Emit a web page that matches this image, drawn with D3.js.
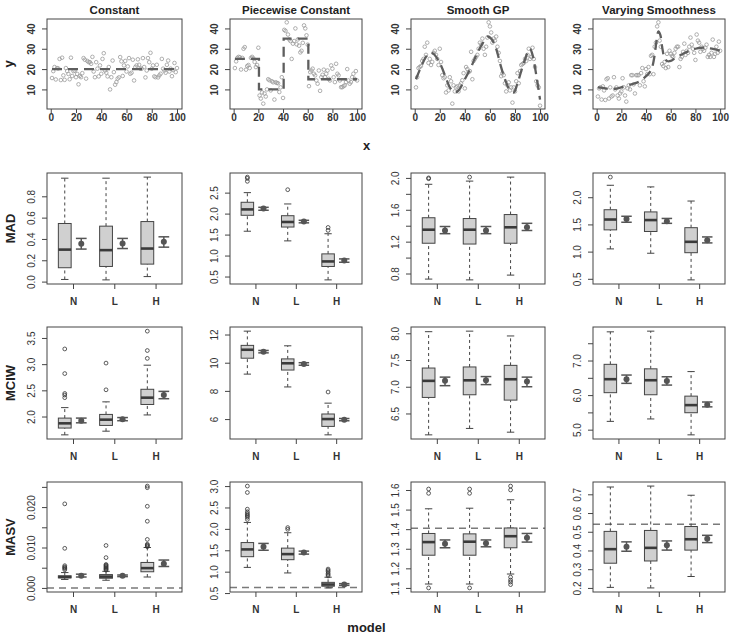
<!DOCTYPE html>
<html><head><meta charset="utf-8">
<script src="https://cdn.jsdelivr.net/npm/d3@7"></script>
<style>body{margin:0;background:#fff}</style>
</head><body><svg id="c" width="733" height="638"></svg>
<script>
// ---------- data ----------
const scenarios = ["Constant", "Piecewise Constant", "Smooth GP", "Varying Smoothness"];
const models = ["N", "L", "H"];
const metrics = ["MAD", "MCIW", "MASV"];

const scatterX = d3.range(1, 101);
const yConstant = [15.6,19.0,21.0,14.9,20.5,20.3,25.0,14.6,25.6,16.9, 14.7,20.5,19.0,17.6,15.0,25.6,16.6,19.0,19.2,16.0,
  17.6,12.5,16.6,16.0,18.0,25.4,24.6,15.3,24.0,23.4, 23.4,22.6,26.0,18.8,16.0,23.4,20.2,16.4,21.8,17.7,
  25.0,27.8,19.3,18.2,16.4,21.0,10.0,16.0,24.2,18.5, 12.3,13.6,15.3,15.9,25.9,23.8,16.6,21.8,24.0,18.8,
  21.3,25.4,17.7,18.2,24.6,14.4,21.0,21.8,24.8,22.1, 20.2,20.2,25.4,21.0,15.9,19.3,25.4,23.4,28.0,20.2,
  21.8,16.4,16.0,22.1,15.9,16.9,17.7,25.0,20.2,19.3, 18.2,22.1,24.2,18.8,20.2,16.5,19.5,23.0,18.5,20.5];
const yPiecewise = [20.5,23.8,25.5,26.0,25.8,19.8,25.5,30.0,30.8,19.7, 21.5,22.0,20.5,25.5,26.0,25.2,23.5,21.0,22.0,30.5,
  7.0,5.5,8.5,3.0,8.0,6.5,10.0,15.0,14.5,9.5, 14.0,13.5,5.0,13.5,13.2,13.0,8.7,11.0,16.0,5.8,
  39.3,38.8,43.0,37.0,34.6,33.8,25.0,32.5,33.8,40.0, 32.2,34.6,31.5,28.2,29.0,32.9,41.5,40.0,36.6,32.0,
  11.6,18.5,19.3,20.2,17.7,16.9,14.4,12.8,19.3,9.3, 16.0,17.2,19.7,16.0,17.7,19.3,15.2,14.4,21.8,20.2,
  16.0,13.6,22.6,17.7,16.9,14.4,11.1,11.1,11.6,12.0, 13.6,20.0,14.4,12.8,13.6,16.0,17.7,15.2,19.0,14.4];
const ySmoothGP = [11,16,20.5,21,21.5,24,25,31,27,33, 23,25,22,23.5,28,29,27,25,22,30,
  23.5,17,15.5,16,8.5,12,9.5,16,14,3, 12,9,11,11.5,9,12,13,14.5,18,10.5,
  21,20,18.5,19,28.5,15,24,25,26,27, 30,33,32,35,30,27,31,35.5,43,41,
  38,33,35,34,36,31,28,24,16.5,18, 17,13,9,12,13.5,9.5,11,3.5,11,9,
  14,18,13,19,22,22.5,23,25,24,27, 30,25,26,30.5,25,21,14,12,11,2];
const yVarying = [6.5,10.5,11,5,11.5,9.5,4.8,15,15.5,5.5, 11,6.5,7,16,10,11,7,5.5,8,9,
  15.5,11,7,4,10.5,12,10,17,17,12.5, 8,17,17,17,12,18,20.5,14,11.5,20,
  17.5,21,17.5,26.5,27,17.5,31,33,41,43, 34,31,22.5,21.5,23.5,20.5,27.5,21,29,27.5,
  26.5,26,28,30,31,31,21,25,26,28.5, 32.5,27,29,28,31,35.5,32,30,28,24.5,
  37,34,33,28.5,31,30,29,30.5,32,26, 27,26,28,34.5,26,27.5,31,28,33.5,29];

const trueConstantX = [1, 100], trueConstantY = [20, 20];
const truePiecewiseX = [1, 20.5, 40.5, 60.5, 100], truePiecewiseY = [25, 10, 35, 15, 15];
const trueSmoothX = [1,5,9,12,15,20,25,28,32,35,40,45,50,55,58,61,65,68,72,76,79,82,86,90,92,94,97,100];
const trueSmoothY = [15,21,26,28,27.5,23,15.5,11,8.5,9.5,15,21,28,33.5,36,35,30,23,15,9.5,8.5,13,21,28,30,27,17,5];
const trueVaryX = [1,5,10,15,20,25,30,35,40,43,45,47,48.5,50,51.5,53,55,57,60,65,70,75,80,85,90,95,100];
const trueVaryY = [11,10.8,10.2,10.3,11,12,12.8,14,16.5,18.5,21,27,34,38.5,37,31,25.5,24,24,26,27.5,29,30,30.5,30.3,29.8,29];

const scatterXTicks = [0, 20, 40, 60, 80, 100];
const scatterYTicks = [10, 20, 30, 40];

// box stats: [lower whisker, q1, median, q3, upper whisker] per scenario x model
const madBox = [
  [[0.02,0.13,0.30,0.545,0.97],[0.016,0.142,0.295,0.52,0.97],[0.047,0.164,0.31,0.563,0.98]],
  [[1.58,1.96,2.10,2.27,2.50],[1.35,1.68,1.80,1.95,2.23],[0.42,0.74,0.86,1.04,1.52]],
  [[0.73,1.18,1.35,1.50,1.92],[0.72,1.17,1.35,1.49,1.96],[0.78,1.18,1.38,1.54,2.01]],
  [[1.05,1.40,1.59,1.77,2.22],[0.97,1.37,1.58,1.73,2.19],[0.48,0.98,1.18,1.44,1.93]]];
const madOut = [[[],[],[]], [[2.77,2.84,2.87],[2.57],[1.6,1.67]], [[1.99,2.0],[2.01],[]], [[2.37],[],[]]];
const madMean = [[0.355,0.357,0.373],[2.12,1.81,0.88],[1.34,1.34,1.38],[1.60,1.56,1.21]];
const madCI = [[[0.305,0.405],[0.31,0.405],[0.323,0.42]], [[2.08,2.15],[1.78,1.84],[0.84,0.92]],
  [[1.30,1.39],[1.30,1.39],[1.34,1.43]], [[1.54,1.65],[1.52,1.61],[1.16,1.27]]];
const madTicks = [[0,0.2,0.4,0.6,0.8],[0.5,1,1.5,2,2.5],[0.8,1.0,1.2,1.4,1.6,1.8,2.0],[0.5,1,1.5,2]];
const madLabels = [[0,0.2,0.4,0.6,0.8],[0.5,1,1.5,2,2.5],[0.8,1.2,1.6,2.0],[0.5,1,1.5,2]];
const madFormat = [".1f",".1f",".1f",".1f"];

const mciwBox = [
  [[1.65,1.78,1.87,1.97,2.17],[1.72,1.83,1.94,2.04,2.28],[2.03,2.23,2.36,2.52,2.98]],
  [[9.19,10.32,10.92,11.23,12.24],[8.28,9.48,9.96,10.27,11.2],[4.88,5.48,6.0,6.36,7.13]],
  [[6.10,6.80,7.11,7.35,8.03],[6.22,6.85,7.12,7.37,8.04],[6.15,6.75,7.14,7.40,7.95]],
  [[5.24,6.07,6.46,6.89,7.83],[5.31,6.01,6.43,6.76,7.85],[4.85,5.49,5.71,5.97,6.68]]];
const mciwOut = [[[2.36,2.41,2.44,2.82,3.29],[2.51,3.02],[3.11,3.26,3.63]], [[],[],[7.92]], [[],[],[]], [[],[],[]]];
const mciwMean = [[1.92,1.95,2.41],[10.78,9.91,5.96],[7.11,7.12,7.10],[6.46,6.41,5.72]];
const mciwCI = [[[1.88,1.97],[1.92,1.98],[2.34,2.48]], [[10.7,10.87],[9.82,10.0],[5.88,6.04]],
  [[7.02,7.18],[7.04,7.19],[7.0,7.18]], [[6.34,6.58],[6.29,6.53],[5.66,5.8]]];
const mciwTicks = [[2,2.5,3,3.5],[6,8,10,12],[6.5,7,7.5,8],[5,5.5,6,6.5,7,7.5]];
const mciwLabels = [[2,2.5,3,3.5],[6,8,10,12],[6.5,7,7.5,8],[5,6,7]];
const mciwFormat = [".1f","d",".1f",".1f"];

const masvBox = [
  [[0.0021,0.0025,0.0027,0.0030,0.0038],[0.0019,0.0024,0.0028,0.0033,0.0041],[0.0027,0.0040,0.0049,0.0063,0.0100]],
  [[1.10,1.35,1.52,1.68,2.15],[0.97,1.28,1.41,1.55,1.91],[0.62,0.66,0.70,0.75,0.87]],
  [[1.12,1.267,1.334,1.378,1.504],[1.12,1.267,1.336,1.376,1.507],[1.171,1.305,1.364,1.406,1.55]],
  [[0.203,0.332,0.407,0.502,0.739],[0.2,0.344,0.414,0.507,0.744],[0.261,0.402,0.46,0.528,0.695]]];
const masvOut = [
  [[0.0045,0.0048,0.005,0.0052,0.0055,0.0098,0.0208],[0.0044,0.0046,0.0048,0.005,0.0052,0.0054,0.0056,0.0058,0.0075,0.0105],[0.0102,0.0104,0.0106,0.0108,0.012,0.0165,0.0202,0.0248,0.0252]],
  [[2.22,2.27,2.3,2.33,2.36,2.4,2.46,2.85,3.0],[1.99,2.03],[0.9,0.93,0.96,1.0,1.03,1.06]],
  [[1.1,1.583,1.605],[1.1,1.583,1.605],[1.117,1.13,1.14,1.155,1.6,1.62]],
  [[],[],[]]];
const masvMean = [[0.0030,0.0030,0.0060],[1.58,1.45,0.70],[1.326,1.328,1.356],[0.42,0.428,0.463]];
const masvCI = [[[0.0027,0.0034],[0.0028,0.0032],[0.0053,0.0069]], [[1.50,1.66],[1.41,1.48],[0.68,0.72]],
  [[1.305,1.345],[1.31,1.345],[1.334,1.378]], [[0.396,0.446],[0.402,0.451],[0.442,0.481]]];
const masvTrue = [0.0, 0.63, 1.405, 0.54];
const masvTicks = [[0,0.005,0.01,0.015,0.02,0.025],[0.5,1,1.5,2,2.5,3],[1.1,1.2,1.3,1.4,1.5,1.6],[0.2,0.3,0.4,0.5,0.6,0.7]];
const masvLabels = [[0,0.01,0.02],[0.5,1,1.5,2,2.5,3],[1.1,1.2,1.3,1.4,1.5,1.6],[0.2,0.3,0.4,0.5,0.6,0.7]];
const masvFormat = [".3f",".1f",".1f",".1f"];

// ---------- layout ----------
const FONT = '"Liberation Sans", Arial, Helvetica, sans-serif';
const ink = "#444";
const colX = [[47,182],[230,362],[411,545],[593,725]];
const rowY = [[19,109],[173,284],[327,439],[482,592]];
const svg = d3.select("#c");

function pad(ext) { const d = (ext[1]-ext[0])*0.04; return [ext[0]-d, ext[1]+d]; }

function styleYAxis(g, labels, fmt, y, ticks) {
  const f = d3.format(fmt);
  g.attr("font-family", FONT).attr("font-size", 8)
   .call(d3.axisLeft(y).tickValues(ticks).tickSize(5).tickSizeOuter(0)
     .tickFormat(d => labels.some(l => Math.abs(l-d) < 1e-9) ? f(d) : ""));
  g.select(".domain").remove();
  g.selectAll(".tick line").attr("stroke", ink);
  g.selectAll(".tick text").attr("x", 0).attr("dy", null).attr("text-anchor", "middle")
   .attr("transform", "translate(-12,0) rotate(-90)").attr("fill", "#333");
}

// ---------- scatter row ----------
const scatterY = [yConstant, yPiecewise, ySmoothGP, yVarying];
const trueX = [trueConstantX, truePiecewiseX, trueSmoothX, trueVaryX];
const trueY = [trueConstantY, truePiecewiseY, trueSmoothY, trueVaryY];
const curves = [d3.curveLinear, d3.curveStepAfter, d3.curveCatmullRom, d3.curveCatmullRom];
const yScatterDom = pad(d3.extent(scatterY.flat()));

scenarios.forEach((name, c) => {
  const [x0, x1] = colX[c], [y0, y1] = rowY[0];
  const x = d3.scaleLinear().domain(pad(d3.extent(scatterX))).range([x0, x1]);
  const y = d3.scaleLinear().domain(yScatterDom).range([y1, y0]);
  const g = svg.append("g");
  g.selectAll("circle").data(scatterY[c]).join("circle")
    .attr("cx", (d, i) => x(scatterX[i])).attr("cy", d => y(d)).attr("r", 1.8)
    .attr("fill", "none").attr("stroke", "#9a9a9a").attr("stroke-width", 0.8);
  const line = d3.line().x(d => x(d[0])).y(d => y(d[1])).curve(curves[c]);
  g.append("path").attr("d", line(trueX[c].map((v, i) => [v, trueY[c][i]])))
    .attr("fill", "none").attr("stroke", "#5e5e5e").attr("stroke-width", 2.3).attr("stroke-dasharray", "10,6");
  g.append("rect").attr("x", x0).attr("y", y0).attr("width", x1-x0).attr("height", y1-y0)
    .attr("fill", "none").attr("stroke", ink);
  const gx = g.append("g").attr("transform", `translate(0,${y1})`).attr("font-family", FONT)
    .attr("font-size", 8).attr("font-weight", "bold")
    .call(d3.axisBottom(x).tickValues(scatterXTicks).tickSize(4).tickPadding(1).tickSizeOuter(0));
  gx.select(".domain").remove();
  gx.selectAll(".tick line").attr("stroke", ink);
  gx.selectAll(".tick text").attr("fill", "#333");
  const gy = g.append("g").attr("transform", `translate(${x0},0)`);
  styleYAxis(gy, scatterYTicks, "d", y, scatterYTicks);
  gy.attr("font-weight", "bold");
  svg.append("text").attr("x", (x0+x1)/2).attr("y", 13.5).attr("text-anchor", "middle")
    .attr("font-family", FONT).attr("font-weight", "bold").attr("font-size", 11.5).attr("fill", "#222").text(name);
});

// ---------- box rows ----------
const metricData = [
  [madBox, madOut, madMean, madCI, madTicks, madLabels, madFormat, null],
  [mciwBox, mciwOut, mciwMean, mciwCI, mciwTicks, mciwLabels, mciwFormat, null],
  [masvBox, masvOut, masvMean, masvCI, masvTicks, masvLabels, masvFormat, masvTrue]];

metricData.forEach(([box, out, mean, ci, ticks, labels, fmt, ref], m) => {
  const r = m + 1;
  scenarios.forEach((s, c) => {
    const [x0, x1] = colX[c], [y0, y1] = rowY[r];
    const all = [...box[c].flat(), ...out[c].flat(), ...ci[c].flat()];
    if (ref) all.push(ref[c]);
    const y = d3.scaleLinear().domain(pad(d3.extent(all))).range([y1, y0]);
    const x = d3.scaleLinear().domain([0.37, 3.64]).range([x0, x1]);
    const g = svg.append("g");
    if (ref) {
      g.append("line").attr("x1", x0).attr("x2", x1).attr("y1", y(ref[c])).attr("y2", y(ref[c]))
        .attr("stroke", "#7a7a7a").attr("stroke-width", 1.6).attr("stroke-dasharray", "7,5");
    }
    models.forEach((mod, i) => {
      const [lo, q1, med, q3, hi] = box[c][i];
      const bx = i + 1 - 0.2, hw = 0.155, sw = 0.09;
      g.append("line").attr("x1", x(bx)).attr("x2", x(bx)).attr("y1", y(lo)).attr("y2", y(q1))
        .attr("stroke", ink).attr("stroke-dasharray", "3,3");
      g.append("line").attr("x1", x(bx)).attr("x2", x(bx)).attr("y1", y(q3)).attr("y2", y(hi))
        .attr("stroke", ink).attr("stroke-dasharray", "3,3");
      [lo, hi].forEach(v => g.append("line").attr("x1", x(bx-sw)).attr("x2", x(bx+sw))
        .attr("y1", y(v)).attr("y2", y(v)).attr("stroke", ink));
      g.append("rect").attr("x", x(bx-hw)).attr("width", x(bx+hw)-x(bx-hw))
        .attr("y", y(q3)).attr("height", y(q1)-y(q3))
        .attr("fill", "#d0d0d0").attr("stroke", ink);
      g.append("line").attr("x1", x(bx-hw)).attr("x2", x(bx+hw)).attr("y1", y(med)).attr("y2", y(med))
        .attr("stroke", "#3a3a3a").attr("stroke-width", 2.6);
      g.selectAll(null).data(out[c][i]).join("circle")
        .attr("cx", x(bx)).attr("cy", d => y(d)).attr("r", 1.9)
        .attr("fill", "none").attr("stroke", "#333").attr("stroke-width", 0.8);
      const mx = i + 1 + 0.2, cw = 0.13;
      const [cl, ch] = ci[c][i];
      g.append("line").attr("x1", x(mx)).attr("x2", x(mx)).attr("y1", y(cl)).attr("y2", y(ch))
        .attr("stroke", "#555").attr("stroke-width", 1.5);
      [cl, ch].forEach(v => g.append("line").attr("x1", x(mx-cw)).attr("x2", x(mx+cw))
        .attr("y1", y(v)).attr("y2", y(v)).attr("stroke", "#555").attr("stroke-width", 1.5));
      g.append("circle").attr("cx", x(mx)).attr("cy", y(mean[c][i])).attr("r", 3).attr("fill", "#555");
    });
    g.append("rect").attr("x", x0).attr("y", y0).attr("width", x1-x0).attr("height", y1-y0)
      .attr("fill", "none").attr("stroke", ink);
    const gx = g.append("g").attr("transform", `translate(0,${y1})`).attr("font-family", FONT)
      .attr("font-size", 8.5).attr("font-weight", "bold")
      .call(d3.axisBottom(x).tickValues([1,2,3]).tickSize(5).tickPadding(9).tickSizeOuter(0)
        .tickFormat(d => models[d-1]));
    gx.select(".domain").remove();
    gx.selectAll(".tick line").attr("stroke", ink);
    gx.selectAll(".tick text").attr("fill", "#333");
    styleYAxis(g.append("g").attr("transform", `translate(${x0},0)`), labels[c], fmt[c], y, ticks[c]);
  });
});

// ---------- axis titles ----------
function title(txt, x, y, rot) {
  svg.append("text").attr("transform", `translate(${x},${y})` + (rot ? " rotate(-90)" : ""))
    .attr("text-anchor", "middle").attr("font-family", FONT).attr("font-weight", "bold")
    .attr("font-size", 13).attr("fill", "#222").text(txt);
}
title("y", 13, 64, true);
title("x", 366.5, 150, false);
metrics.forEach((t, m) => title(t, 15, (rowY[m+1][0] + rowY[m+1][1]) / 2, true));
title("model", 366.5, 632, false);
</script></body></html>
